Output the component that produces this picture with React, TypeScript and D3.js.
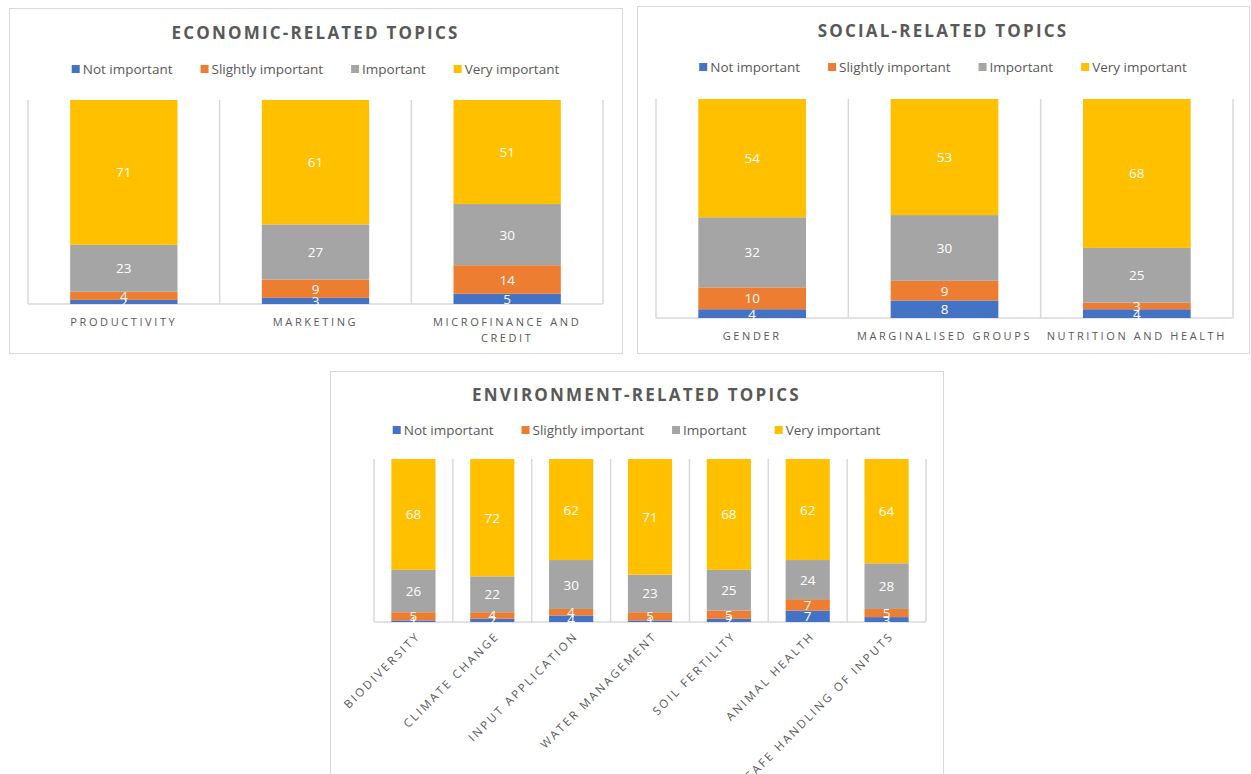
import React from "react";
import * as d3 from "d3";

const series = ["Not important", "Slightly important", "Important", "Very important"];
const colors = ["#4472C4", "#ED7D31", "#A5A5A5", "#FFC000"];

const econCats = ["PRODUCTIVITY", "MARKETING", "MICROFINANCE AND CREDIT"];
const econNot = [2, 3, 5];
const econSlight = [4, 9, 14];
const econImp = [23, 27, 30];
const econVery = [71, 61, 51];

const socCats = ["GENDER", "MARGINALISED GROUPS", "NUTRITION AND HEALTH"];
const socNot = [4, 8, 4];
const socSlight = [10, 9, 3];
const socImp = [32, 30, 25];
const socVery = [54, 53, 68];

const envCats = ["BIODIVERSITY", "CLIMATE CHANGE", "INPUT APPLICATION", "WATER MANAGEMENT", "SOIL FERTILITY", "ANIMAL HEALTH", "SAFE HANDLING OF INPUTS"];
const envNot = [1, 2, 4, 1, 2, 7, 3];
const envSlight = [5, 4, 4, 5, 5, 7, 5];
const envImp = [26, 22, 30, 23, 25, 24, 28];
const envVery = [68, 72, 62, 71, 68, 62, 64];

const FONT = "'Open Sans', 'Noto Sans', sans-serif";
const TEXT = "#595959";
const GRID = "#d9d9d9";

const panels = [
  {
    title: "ECONOMIC-RELATED TOPICS",
    cats: econCats,
    values: [econNot, econSlight, econImp, econVery],
    box: { x: 9, y: 8, w: 613, h: 345 },
    plot: { x0: 28, x1: 603, y0: 100, y1: 304 },
    titleY: 32, legendY: 69, labelY: 321, rotate: false,
  },
  {
    title: "SOCIAL-RELATED TOPICS",
    cats: socCats,
    values: [socNot, socSlight, socImp, socVery],
    box: { x: 637, y: 6, w: 612, h: 347 },
    plot: { x0: 656, x1: 1233, y0: 99, y1: 318 },
    titleY: 30, legendY: 67, labelY: 335, rotate: false,
  },
  {
    title: "ENVIRONMENT-RELATED TOPICS",
    cats: envCats,
    values: [envNot, envSlight, envImp, envVery],
    box: { x: 330, y: 371, w: 613, h: 412 },
    plot: { x0: 374, x1: 926, y0: 459, y1: 622 },
    titleY: 394, legendY: 430, labelY: 630, rotate: true,
  },
];

function drawPanel(svg, p) {
  const g = svg.append("g");
  g.append("rect")
    .attr("x", p.box.x + 0.5).attr("y", p.box.y + 0.5)
    .attr("width", p.box.w).attr("height", p.box.h)
    .attr("fill", "#fff").attr("stroke", GRID).attr("stroke-width", 1);

  const cx = p.box.x + p.box.w / 2;
  g.append("text")
    .attr("x", cx).attr("y", p.titleY)
    .attr("text-anchor", "middle").attr("dominant-baseline", "central")
    .attr("font-family", FONT).attr("font-weight", 700).attr("font-size", 17)
    .attr("letter-spacing", 2.2).attr("fill", TEXT)
    .text(p.title);

  // legend, laid out after measuring text
  const lg = g.append("g");
  let lx = 0;
  series.forEach((s, i) => {
    const item = lg.append("g").attr("transform", `translate(${lx},0)`);
    item.append("rect").attr("x", 0).attr("y", p.legendY - 4).attr("width", 8).attr("height", 8).attr("fill", colors[i]);
    const t = item.append("text")
      .attr("x", 11).attr("y", p.legendY)
      .attr("dominant-baseline", "central")
      .attr("font-family", FONT).attr("font-size", 13.5).attr("fill", TEXT)
      .text(s);
    lx += 11 + t.node().getComputedTextLength() + 28;
  });
  lx -= 28;
  lg.attr("transform", `translate(${cx - lx / 2},0)`);

  const rows = p.cats.map((c, i) => ({ cat: c, v: p.values.map(a => a[i]) }));
  const stack = d3.stack().keys([0, 1, 2, 3]).value((d, k) => d.v[k]);
  const layers = stack(rows);

  const x = d3.scaleBand().domain(p.cats).range([p.plot.x0, p.plot.x1]).paddingInner(0.44).paddingOuter(0.22);
  const y = d3.scaleLinear().domain([0, 100]).range([p.plot.y1, p.plot.y0]);
  const step = x.step();

  // vertical gridlines between categories
  const bounds = d3.range(p.cats.length + 1).map(i => p.plot.x0 + i * step);
  g.selectAll(".vg").data(bounds).join("line")
    .attr("x1", d => d).attr("x2", d => d)
    .attr("y1", p.plot.y0).attr("y2", p.plot.y1)
    .attr("stroke", GRID).attr("stroke-width", 1.5);
  g.append("line")
    .attr("x1", p.plot.x0).attr("x2", p.plot.x1)
    .attr("y1", p.plot.y1).attr("y2", p.plot.y1)
    .attr("stroke", GRID).attr("stroke-width", 1.5);

  layers.forEach((layer, k) => {
    g.selectAll(null).data(layer).join("rect")
      .attr("x", d => x(d.data.cat))
      .attr("width", x.bandwidth())
      .attr("y", d => y(d[1]))
      .attr("height", d => y(d[0]) - y(d[1]))
      .attr("fill", colors[k]);
  });
  layers.forEach(layer => {
    g.selectAll(null).data(layer).join("text")
      .attr("x", d => x(d.data.cat) + x.bandwidth() / 2)
      .attr("y", d => (y(d[0]) + y(d[1])) / 2)
      .attr("text-anchor", "middle").attr("dominant-baseline", "central")
      .attr("font-family", FONT).attr("font-size", 13.5).attr("fill", "#fff")
      .text(d => d[1] - d[0]);
  });

  // category labels
  p.cats.forEach(c => {
    const mx = x(c) + x.bandwidth() / 2;
    if (p.rotate) {
      g.append("text")
        .attr("transform", `translate(${mx + 1},${p.labelY}) rotate(-45)`)
        .attr("text-anchor", "end").attr("dominant-baseline", "hanging")
        .attr("font-family", FONT).attr("font-size", 11.5).attr("letter-spacing", 2.4).attr("fill", TEXT)
        .text(c);
    } else {
      const t = g.append("text")
        .attr("x", mx).attr("y", p.labelY)
        .attr("text-anchor", "middle").attr("dominant-baseline", "central")
        .attr("font-family", FONT).attr("font-size", 11).attr("letter-spacing", 2.6).attr("fill", TEXT)
        .text(c);
      if (t.node().getComputedTextLength() > step) {
        const words = c.split(" ");
        const line1 = words.slice(0, -1).join(" ");
        const line2 = words[words.length - 1];
        t.text(null);
        t.append("tspan").attr("x", mx).attr("dy", 0).text(line1);
        t.append("tspan").attr("x", mx).attr("dy", 15.5).text(line2);
      }
    }
  });
}

export default function App() {
  const ref = React.useRef(null);
  React.useEffect(() => {
    const svg = d3.select(ref.current);
    svg.selectAll("*").remove();
    panels.forEach(p => drawPanel(svg, p));
  }, []);
  return (
    <svg ref={ref} width={1251} height={774}
      style={{ position: "absolute", left: 0, top: 0, background: "#fff" }} />
  );
}
